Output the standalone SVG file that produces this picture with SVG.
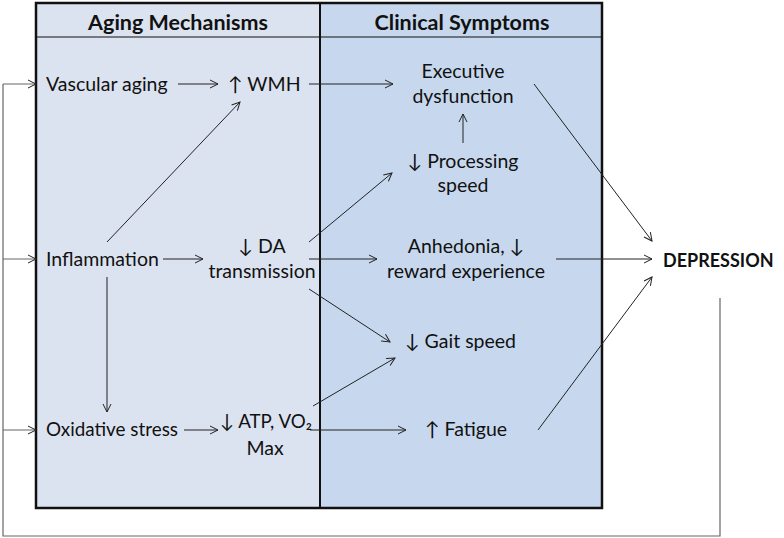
<svg xmlns="http://www.w3.org/2000/svg" width="784" height="538" viewBox="0 0 784 538">
<defs>
<marker id="ah" markerWidth="12" markerHeight="12" refX="9" refY="5" orient="auto" markerUnits="userSpaceOnUse">
<path d="M1,1 L9,5 L1,9" fill="none" stroke="#222" stroke-width="1"/>
</marker>
</defs>
<style>
text{font-family:Lato,"Open Sans","Liberation Sans",sans-serif;font-size:19.5px;fill:#111}
.h{font-weight:bold;font-size:21.5px}
.c{text-anchor:middle}
.e{fill:none;stroke:#222;stroke-width:1}
.loop{fill:none;stroke:#666;stroke-width:1.2}
</style>
<g id="panels">
<rect x="36" y="3" width="284" height="505" fill="#dce3f0"/>
<rect x="320" y="3" width="282" height="505" fill="#c7d8ee"/>
<rect x="36" y="3" width="566" height="505" fill="none" stroke="#111" stroke-width="2.5"/>
<line x1="320" y1="3" x2="320" y2="508" stroke="#111" stroke-width="2"/>
<line x1="36" y1="37" x2="602" y2="37" stroke="#111" stroke-width="1.2"/>
<text class="h c" x="178" y="30">Aging Mechanisms</text>
<text class="h c" x="462" y="30">Clinical Symptoms</text>
</g>
<g id="connectors">
<path class="loop" d="M720,298 V536 H3 V84" />
<line class="loop" x1="3" y1="84" x2="36" y2="84" marker-end="url(#ah)"/>
<line class="loop" x1="3" y1="259" x2="36" y2="259" marker-end="url(#ah)"/>
<line class="loop" x1="3" y1="430" x2="36" y2="430" marker-end="url(#ah)"/>
<line class="e" x1="178" y1="84" x2="218" y2="84" marker-end="url(#ah)"/>
<line class="e" x1="309" y1="84" x2="393" y2="84" marker-end="url(#ah)"/>
<line class="e" x1="463" y1="143" x2="463" y2="114" marker-end="url(#ah)"/>
<line class="e" x1="107" y1="242" x2="240" y2="102" marker-end="url(#ah)"/>
<line class="e" x1="309" y1="242" x2="392" y2="173" marker-end="url(#ah)"/>
<line class="e" x1="163" y1="259" x2="203" y2="259" marker-end="url(#ah)"/>
<line class="e" x1="309" y1="259" x2="377" y2="259" marker-end="url(#ah)"/>
<line class="e" x1="556" y1="259" x2="652" y2="259" marker-end="url(#ah)"/>
<line class="e" x1="534" y1="84" x2="652" y2="241" marker-end="url(#ah)"/>
<line class="e" x1="538" y1="430" x2="652" y2="277" marker-end="url(#ah)"/>
<line class="e" x1="309" y1="289" x2="390" y2="342" marker-end="url(#ah)"/>
<line class="e" x1="313" y1="406" x2="395" y2="358" marker-end="url(#ah)"/>
<line class="e" x1="107" y1="277" x2="107" y2="412" marker-end="url(#ah)"/>
<line class="e" x1="184" y1="430" x2="218" y2="430" marker-end="url(#ah)"/>
<line class="e" x1="310" y1="430" x2="406" y2="430" marker-end="url(#ah)"/>
</g>
<g id="vascular"><text x="46" y="91">Vascular aging</text></g>
<g id="wmh"><text x="228" y="91">↑ WMH</text></g>
<g id="executive"><text class="c" x="463" y="78">Executive</text><text class="c" x="463" y="103">dysfunction</text></g>
<g id="processing"><text class="c" x="463" y="168">↓ Processing</text><text class="c" x="463" y="192">speed</text></g>
<g id="inflammation"><text x="46" y="266">Inflammation</text></g>
<g id="da"><text class="c" x="262" y="253">↓ DA</text><text class="c" x="262" y="278">transmission</text></g>
<g id="anhedonia"><text class="c" x="466" y="253">Anhedonia, ↓</text><text class="c" x="466" y="278">reward experience</text></g>
<g id="depression"><text class="h" x="663" y="267" style="font-size:18px">DEPRESSION</text></g>
<g id="gait"><text x="405" y="348">↓ Gait speed</text></g>
<g id="oxidative"><text x="46" y="436" textLength="132" lengthAdjust="spacingAndGlyphs">Oxidative stress</text></g>
<g id="atp"><text x="220" y="428" textLength="92" lengthAdjust="spacingAndGlyphs">↓ ATP, VO₂</text><text class="c" x="265" y="455">Max</text></g>
<g id="fatigue"><text x="425" y="436">↑ Fatigue</text></g>
</svg>
